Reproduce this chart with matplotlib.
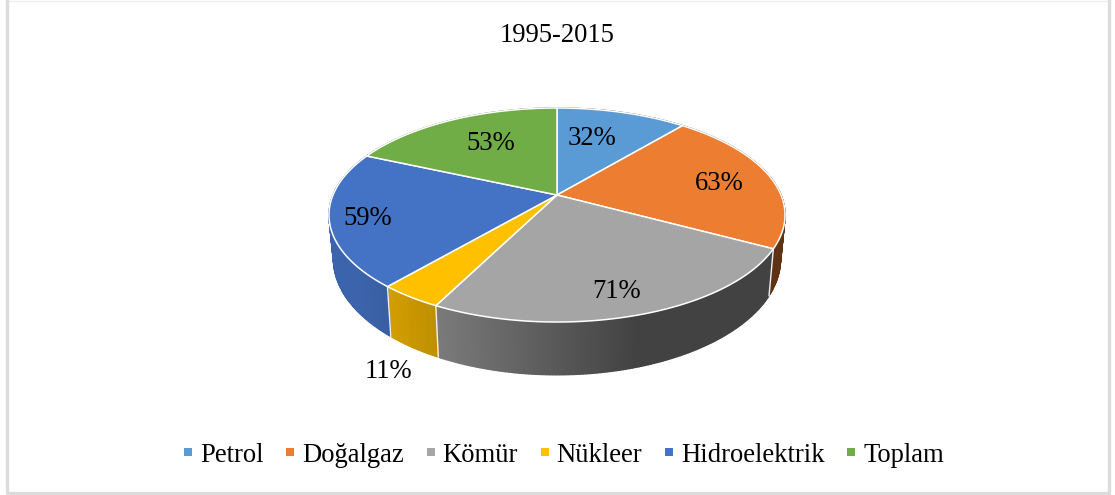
import numpy as np
import matplotlib
matplotlib.use("Agg")
import matplotlib.pyplot as plt
from matplotlib.lines import Line2D

title = "1995-2015"
categories = ["Petrol", "Doğalgaz", "Kömür", "Nükleer", "Hidroelektrik", "Toplam"]
values = [32, 63, 71, 11, 59, 53]
colors = ["#5b9bd5", "#ed7d31", "#a5a5a5", "#ffc000", "#4472c4", "#70ad47"]

# where each percent label sits on the pie top: radius (1 = rim) and turn from slice middle in degrees
label_radius = [0.63, 0.75, 0.83, None, 0.84, 0.645]
label_turn = [-3.9, 1.9, 1.5, 0, -2.2, 2.5]

plt.rcParams["font.family"] = ["Liberation Serif", "DejaVu Serif"]

# the axes is in picture pixels, y going down
CX, CY = 557, 195
RX, PY, PERSP = 224, -66.8, 0.187
FONT = 19.2


def top_xy(theta, r=1.0):
    # perspective view of the pie top, theta clockwise from 12 o'clock
    u = r * np.sin(theta)
    v = r * np.cos(theta)
    d = 1 + PERSP * v
    return CX + RX * u / d, (CY + PY * v) / d


def bottom_xy(x, y):
    # the lower rim, a bit narrower because it is further from the camera
    return CX + 0.98 * (x - CX), 1.08 * y + 27


def wall_shade(x):
    return np.clip(0.74 - (x - 437) * 0.34 / 200, 0.4, 0.88)


fig = plt.figure(figsize=(11.15, 4.95), dpi=100)
ax = fig.add_axes([0, 0, 1, 1])
ax.set_xlim(0, 1115)
ax.set_ylim(495, 0)
ax.axis("off")

# chart frame, the top edge is nearly cut off in the reference
ax.plot([6.5, 1109], [0.5, 0.5], color="#efefef", lw=1)
ax.plot([6.5, 6.5, 1109, 1109], [0.5, 492.5, 492.5, 0.5], color="#dcdcdc", lw=2.4)

frac = np.cumsum([0] + values) / sum(values) * 2 * np.pi

# side wall first, thin strips so the shading runs along the rim
for i, col in enumerate(colors):
    n = max(int((frac[i + 1] - frac[i]) * 80), 2)
    th = np.linspace(frac[i], frac[i + 1], n + 1)
    x, y = top_xy(th)
    bx, by = bottom_xy(x, y)
    base = np.array(matplotlib.colors.to_rgb(col))
    for k in range(n):
        c = base * wall_shade((x[k] + x[k + 1]) / 2)
        ax.fill([x[k], x[k + 1], bx[k + 1], bx[k]], [y[k], y[k + 1], by[k + 1], by[k]],
                fc=c, ec=c, lw=1.0, zorder=2)

# light seams between the wall pieces, only the ones on the front side
for t in frac[:-1]:
    x, y = top_xy(t)
    if np.cos(t) < 0:
        bx, by = bottom_xy(x, y)
        ax.plot([x, bx], [y, by], color="#f2f2f2", lw=1.0, zorder=3)

# pie top
for i, col in enumerate(colors):
    th = np.linspace(frac[i], frac[i + 1], 120)
    x, y = top_xy(th)
    ax.fill(np.r_[CX, x], np.r_[CY, y], fc=col, ec="white", lw=1.1, zorder=4, joinstyle="round")

# percent labels
for i, v in enumerate(values):
    mid = (frac[i] + frac[i + 1]) / 2
    if label_radius[i] is not None:
        lx, ly = top_xy(mid + np.radians(label_turn[i]), label_radius[i])
    else:
        # small slice, label sits below the wall
        rx, ry = top_xy(mid)
        lx, ly = bottom_xy(rx, ry)
        lx, ly = lx - 25, ly + 24
    ax.text(lx, ly, f"{v}%", ha="center", va="center", fontsize=FONT, color="black", zorder=6)

ax.text(557, 36, title, ha="center", va="center", fontsize=FONT, color="black")

handles = [Line2D([], [], ls="none", marker="s", ms=6.4, mfc=c, mec=c, mew=0) for c in colors]
ax.legend(handles, categories, ncol=6, loc="center", bbox_to_anchor=(564, 455),
          bbox_transform=ax.transData, frameon=False, fontsize=FONT, handlelength=0.3,
          handletextpad=0.3, columnspacing=0.85, borderpad=0, labelcolor="black")

fig.savefig("out.png", dpi=100)
